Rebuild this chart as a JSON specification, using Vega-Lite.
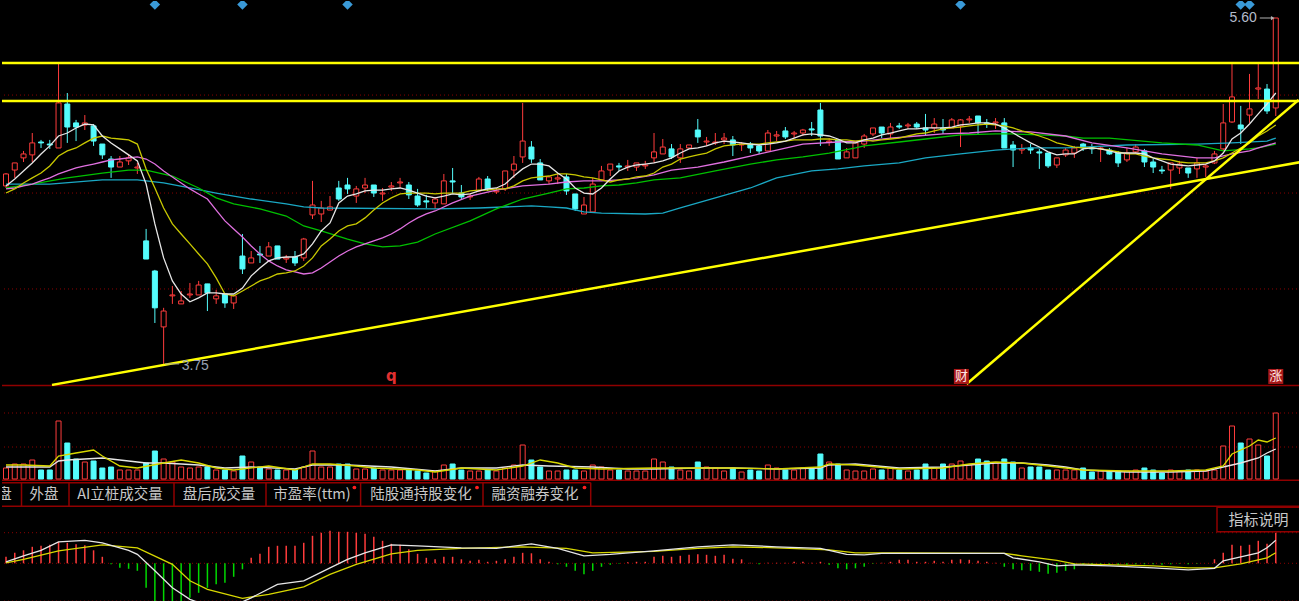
{
"$schema":"https://vega.github.io/schema/vega-lite/v6.json",
"background":"#000000",
"padding":0,
"spacing":0,
"bounds":"flush",
"config":{"view":{"stroke":null},"text":{"font":"Liberation Sans"},"scale":{"continuousPadding":0}},
"datasets":{
"k":[
{"i":0,"o":4.702,"h":4.771,"l":4.691,"c":4.766,"v":11,"m5":4.702,"m10":4.664,"macd":0.013},
{"i":1,"o":4.787,"h":4.825,"l":4.745,"c":4.825,"v":15,"m5":4.739,"m10":4.686,"macd":0.021},
{"i":2,"o":4.852,"h":4.889,"l":4.830,"c":4.873,"v":15,"m5":4.782,"m10":4.718,"macd":0.026},
{"i":3,"o":4.868,"h":4.985,"l":4.830,"c":4.932,"v":19,"m5":4.825,"m10":4.745,"macd":0.033},
{"i":4,"o":4.937,"h":4.948,"l":4.905,"c":4.932,"v":9,"m5":4.873,"m10":4.771,"macd":0.035},
{"i":5,"o":4.926,"h":4.948,"l":4.900,"c":4.921,"v":9,"m5":4.916,"m10":4.809,"macd":0.037},
{"i":6,"o":4.905,"h":5.354,"l":4.905,"c":5.146,"v":58,"m5":4.969,"m10":4.862,"macd":0.043},
{"i":7,"o":5.140,"h":5.199,"l":4.932,"c":5.017,"v":36,"m5":4.985,"m10":4.889,"macd":0.041},
{"i":8,"o":5.039,"h":5.055,"l":4.942,"c":5.017,"v":20,"m5":5.012,"m10":4.905,"macd":0.038},
{"i":9,"o":5.028,"h":5.081,"l":5.001,"c":5.039,"v":17,"m5":5.033,"m10":4.932,"macd":0.036},
{"i":10,"o":5.023,"h":5.033,"l":4.916,"c":4.942,"v":18,"m5":5.028,"m10":4.958,"macd":0.026},
{"i":11,"o":4.926,"h":4.926,"l":4.846,"c":4.868,"v":11,"m5":4.969,"m10":4.969,"macd":0.013},
{"i":12,"o":4.846,"h":4.862,"l":4.745,"c":4.803,"v":12,"m5":4.932,"m10":4.958,"macd":-0.002},
{"i":13,"o":4.803,"h":4.862,"l":4.803,"c":4.830,"v":9,"m5":4.900,"m10":4.953,"macd":-0.009},
{"i":14,"o":4.836,"h":4.873,"l":4.814,"c":4.852,"v":9,"m5":4.868,"m10":4.948,"macd":-0.011},
{"i":15,"o":4.798,"h":4.825,"l":4.766,"c":4.803,"v":9,"m5":4.836,"m10":4.926,"macd":-0.015},
{"i":16,"o":4.408,"h":4.472,"l":4.311,"c":4.311,"v":16,"m5":4.712,"m10":4.793,"macd":-0.049},
{"i":17,"o":4.247,"h":4.253,"l":3.969,"c":4.050,"v":28,"m5":4.499,"m10":4.691,"macd":-0.080},
{"i":18,"o":3.948,"h":4.050,"l":3.750,"c":4.033,"v":20,"m5":4.317,"m10":4.584,"macd":-0.080},
{"i":19,"o":4.114,"h":4.167,"l":4.071,"c":4.119,"v":17,"m5":4.194,"m10":4.499,"macd":-0.080},
{"i":20,"o":4.071,"h":4.140,"l":4.071,"c":4.087,"v":12,"m5":4.124,"m10":4.445,"macd":-0.078},
{"i":21,"o":4.119,"h":4.183,"l":4.103,"c":4.124,"v":11,"m5":4.082,"m10":4.392,"macd":-0.069},
{"i":22,"o":4.119,"h":4.194,"l":4.119,"c":4.172,"v":12,"m5":4.103,"m10":4.338,"macd":-0.059},
{"i":23,"o":4.178,"h":4.178,"l":4.033,"c":4.130,"v":12,"m5":4.130,"m10":4.285,"macd":-0.049},
{"i":24,"o":4.098,"h":4.146,"l":4.071,"c":4.114,"v":9,"m5":4.130,"m10":4.210,"macd":-0.042},
{"i":25,"o":4.124,"h":4.124,"l":4.050,"c":4.076,"v":9,"m5":4.124,"m10":4.124,"macd":-0.039},
{"i":26,"o":4.076,"h":4.114,"l":4.044,"c":4.114,"v":8,"m5":4.124,"m10":4.114,"macd":-0.027},
{"i":27,"o":4.327,"h":4.445,"l":4.231,"c":4.258,"v":23,"m5":4.156,"m10":4.140,"macd":-0.012},
{"i":28,"o":4.290,"h":4.354,"l":4.290,"c":4.317,"v":17,"m5":4.221,"m10":4.167,"macd":0.011},
{"i":29,"o":4.338,"h":4.381,"l":4.290,"c":4.333,"v":12,"m5":4.263,"m10":4.194,"macd":0.019},
{"i":30,"o":4.327,"h":4.402,"l":4.327,"c":4.376,"v":10,"m5":4.301,"m10":4.210,"macd":0.033},
{"i":31,"o":4.381,"h":4.381,"l":4.311,"c":4.311,"v":9,"m5":4.317,"m10":4.231,"macd":0.035},
{"i":32,"o":4.311,"h":4.333,"l":4.290,"c":4.317,"v":9,"m5":4.322,"m10":4.237,"macd":0.035},
{"i":33,"o":4.322,"h":4.354,"l":4.274,"c":4.290,"v":9,"m5":4.322,"m10":4.247,"macd":0.035},
{"i":34,"o":4.317,"h":4.424,"l":4.301,"c":4.418,"v":12,"m5":4.338,"m10":4.274,"macd":0.041},
{"i":35,"o":4.547,"h":4.729,"l":4.525,"c":4.600,"v":28,"m5":4.392,"m10":4.317,"macd":0.055},
{"i":36,"o":4.552,"h":4.622,"l":4.509,"c":4.584,"v":12,"m5":4.461,"m10":4.381,"macd":0.061},
{"i":37,"o":4.573,"h":4.648,"l":4.573,"c":4.590,"v":12,"m5":4.504,"m10":4.418,"macd":0.065},
{"i":38,"o":4.691,"h":4.729,"l":4.622,"c":4.632,"v":15,"m5":4.611,"m10":4.461,"macd":0.063},
{"i":39,"o":4.707,"h":4.745,"l":4.659,"c":4.686,"v":15,"m5":4.648,"m10":4.488,"macd":0.063},
{"i":40,"o":4.648,"h":4.702,"l":4.611,"c":4.686,"v":10,"m5":4.659,"m10":4.499,"macd":0.061},
{"i":41,"o":4.691,"h":4.745,"l":4.664,"c":4.707,"v":10,"m5":4.675,"m10":4.531,"macd":0.059},
{"i":42,"o":4.707,"h":4.707,"l":4.643,"c":4.664,"v":11,"m5":4.680,"m10":4.573,"macd":0.053},
{"i":43,"o":4.659,"h":4.691,"l":4.622,"c":4.664,"v":9,"m5":4.680,"m10":4.611,"macd":0.045},
{"i":44,"o":4.696,"h":4.723,"l":4.675,"c":4.702,"v":9,"m5":4.686,"m10":4.638,"macd":0.039},
{"i":45,"o":4.718,"h":4.745,"l":4.691,"c":4.723,"v":9,"m5":4.691,"m10":4.659,"macd":0.037},
{"i":46,"o":4.707,"h":4.723,"l":4.632,"c":4.654,"v":9,"m5":4.680,"m10":4.664,"macd":0.028},
{"i":47,"o":4.648,"h":4.686,"l":4.590,"c":4.600,"v":8,"m5":4.664,"m10":4.664,"macd":0.019},
{"i":48,"o":4.622,"h":4.654,"l":4.584,"c":4.616,"v":6,"m5":4.648,"m10":4.664,"macd":0.011},
{"i":49,"o":4.611,"h":4.643,"l":4.579,"c":4.632,"v":8,"m5":4.638,"m10":4.659,"macd":0.008},
{"i":50,"o":4.606,"h":4.766,"l":4.606,"c":4.729,"v":14,"m5":4.648,"m10":4.664,"macd":0.013},
{"i":51,"o":4.729,"h":4.798,"l":4.664,"c":4.723,"v":15,"m5":4.659,"m10":4.664,"macd":0.013},
{"i":52,"o":4.664,"h":4.707,"l":4.632,"c":4.643,"v":9,"m5":4.654,"m10":4.664,"macd":0.008},
{"i":53,"o":4.643,"h":4.664,"l":4.627,"c":4.648,"v":8,"m5":4.659,"m10":4.675,"macd":0.005},
{"i":54,"o":4.675,"h":4.750,"l":4.670,"c":4.739,"v":8,"m5":4.675,"m10":4.680,"macd":0.007},
{"i":55,"o":4.739,"h":4.755,"l":4.675,"c":4.686,"v":9,"m5":4.686,"m10":4.680,"macd":0.003},
{"i":56,"o":4.670,"h":4.691,"l":4.659,"c":4.675,"v":8,"m5":4.691,"m10":4.686,"macd":0.005},
{"i":57,"o":4.686,"h":4.782,"l":4.675,"c":4.782,"v":11,"m5":4.712,"m10":4.686,"macd":0.008},
{"i":58,"o":4.787,"h":4.862,"l":4.745,"c":4.819,"v":14,"m5":4.755,"m10":4.702,"macd":0.013},
{"i":59,"o":4.857,"h":5.146,"l":4.825,"c":4.942,"v":34,"m5":4.793,"m10":4.729,"macd":0.021},
{"i":60,"o":4.910,"h":4.942,"l":4.825,"c":4.846,"v":19,"m5":4.819,"m10":4.745,"macd":0.020},
{"i":61,"o":4.825,"h":4.846,"l":4.734,"c":4.734,"v":12,"m5":4.819,"m10":4.750,"macd":0.008},
{"i":62,"o":4.729,"h":4.755,"l":4.712,"c":4.750,"v":8,"m5":4.809,"m10":4.755,"macd":0.003},
{"i":63,"o":4.739,"h":4.771,"l":4.712,"c":4.745,"v":8,"m5":4.771,"m10":4.766,"macd":-0.002},
{"i":64,"o":4.750,"h":4.766,"l":4.654,"c":4.675,"v":9,"m5":4.739,"m10":4.766,"macd":-0.007},
{"i":65,"o":4.659,"h":4.659,"l":4.568,"c":4.579,"v":9,"m5":4.691,"m10":4.761,"macd":-0.015},
{"i":66,"o":4.552,"h":4.643,"l":4.552,"c":4.600,"v":8,"m5":4.664,"m10":4.750,"macd":-0.022},
{"i":67,"o":4.563,"h":4.745,"l":4.563,"c":4.712,"v":14,"m5":4.659,"m10":4.745,"macd":-0.015},
{"i":68,"o":4.734,"h":4.809,"l":4.734,"c":4.782,"v":12,"m5":4.691,"m10":4.734,"macd":-0.007},
{"i":69,"o":4.787,"h":4.819,"l":4.755,"c":4.819,"v":9,"m5":4.739,"m10":4.723,"macd":-0.003},
{"i":70,"o":4.809,"h":4.825,"l":4.782,"c":4.803,"v":9,"m5":4.782,"m10":4.734,"macd":-0.001},
{"i":71,"o":4.803,"h":4.841,"l":4.782,"c":4.809,"v":8,"m5":4.803,"m10":4.739,"macd":0.002},
{"i":72,"o":4.803,"h":4.825,"l":4.782,"c":4.825,"v":8,"m5":4.814,"m10":4.750,"macd":0.003},
{"i":73,"o":4.809,"h":4.836,"l":4.793,"c":4.814,"v":8,"m5":4.819,"m10":4.755,"macd":0.003},
{"i":74,"o":4.852,"h":4.985,"l":4.825,"c":4.884,"v":20,"m5":4.825,"m10":4.771,"macd":0.013},
{"i":75,"o":4.873,"h":4.953,"l":4.873,"c":4.910,"v":17,"m5":4.836,"m10":4.803,"macd":0.015},
{"i":76,"o":4.900,"h":4.926,"l":4.846,"c":4.857,"v":12,"m5":4.852,"m10":4.819,"macd":0.013},
{"i":77,"o":4.852,"h":4.926,"l":4.825,"c":4.900,"v":9,"m5":4.878,"m10":4.846,"macd":0.015},
{"i":78,"o":4.905,"h":4.921,"l":4.900,"c":4.921,"v":8,"m5":4.900,"m10":4.857,"macd":0.017},
{"i":79,"o":5.001,"h":5.060,"l":4.932,"c":4.964,"v":17,"m5":4.905,"m10":4.868,"macd":0.018},
{"i":80,"o":4.937,"h":4.964,"l":4.916,"c":4.942,"v":12,"m5":4.916,"m10":4.878,"macd":0.017},
{"i":81,"o":4.932,"h":4.985,"l":4.921,"c":4.937,"v":11,"m5":4.932,"m10":4.900,"macd":0.015},
{"i":82,"o":4.948,"h":4.985,"l":4.926,"c":4.958,"v":8,"m5":4.942,"m10":4.916,"macd":0.017},
{"i":83,"o":4.948,"h":4.969,"l":4.862,"c":4.921,"v":11,"m5":4.937,"m10":4.921,"macd":0.009},
{"i":84,"o":4.921,"h":4.937,"l":4.889,"c":4.926,"v":7,"m5":4.932,"m10":4.926,"macd":0.008},
{"i":85,"o":4.926,"h":4.937,"l":4.878,"c":4.905,"v":9,"m5":4.926,"m10":4.926,"macd":0.001},
{"i":86,"o":4.916,"h":4.926,"l":4.873,"c":4.889,"v":8,"m5":4.921,"m10":4.926,"macd":-0.002},
{"i":87,"o":4.889,"h":5.001,"l":4.889,"c":4.985,"v":14,"m5":4.926,"m10":4.932,"macd":0.001},
{"i":88,"o":4.969,"h":4.996,"l":4.942,"c":4.975,"v":11,"m5":4.932,"m10":4.937,"macd":0.001},
{"i":89,"o":4.996,"h":5.017,"l":4.953,"c":4.964,"v":9,"m5":4.942,"m10":4.942,"macd":0.001},
{"i":90,"o":4.980,"h":4.996,"l":4.958,"c":4.985,"v":9,"m5":4.958,"m10":4.948,"macd":0.003},
{"i":91,"o":4.985,"h":5.007,"l":4.969,"c":5.001,"v":11,"m5":4.975,"m10":4.948,"macd":0.003},
{"i":92,"o":5.007,"h":5.044,"l":4.969,"c":5.001,"v":10,"m5":4.980,"m10":4.948,"macd":0.001},
{"i":93,"o":5.108,"h":5.146,"l":4.916,"c":4.969,"v":25,"m5":4.975,"m10":4.953,"macd":0.003},
{"i":94,"o":4.937,"h":4.958,"l":4.916,"c":4.942,"v":17,"m5":4.969,"m10":4.953,"macd":-0.003},
{"i":95,"o":4.948,"h":4.948,"l":4.846,"c":4.846,"v":15,"m5":4.953,"m10":4.948,"macd":-0.010},
{"i":96,"o":4.852,"h":4.905,"l":4.852,"c":4.884,"v":9,"m5":4.932,"m10":4.948,"macd":-0.012},
{"i":97,"o":4.852,"h":4.932,"l":4.852,"c":4.932,"v":8,"m5":4.932,"m10":4.942,"macd":-0.010},
{"i":98,"o":4.926,"h":4.980,"l":4.905,"c":4.969,"v":8,"m5":4.948,"m10":4.948,"macd":-0.007},
{"i":99,"o":4.980,"h":5.012,"l":4.969,"c":5.012,"v":10,"m5":4.958,"m10":4.942,"macd":-0.001},
{"i":100,"o":5.017,"h":5.017,"l":4.958,"c":4.985,"v":9,"m5":4.975,"m10":4.948,"macd":0.001},
{"i":101,"o":4.980,"h":5.039,"l":4.958,"c":5.017,"v":11,"m5":4.985,"m10":4.953,"macd":0.003},
{"i":102,"o":5.023,"h":5.039,"l":5.007,"c":5.017,"v":9,"m5":4.996,"m10":4.958,"macd":0.007},
{"i":103,"o":5.023,"h":5.039,"l":5.007,"c":5.028,"v":8,"m5":5.007,"m10":4.969,"macd":0.007},
{"i":104,"o":5.033,"h":5.044,"l":5.007,"c":5.017,"v":9,"m5":5.007,"m10":4.980,"macd":0.003},
{"i":105,"o":5.012,"h":5.087,"l":4.969,"c":5.001,"v":15,"m5":5.012,"m10":4.985,"macd":0.003},
{"i":106,"o":5.012,"h":5.065,"l":4.985,"c":5.033,"v":11,"m5":5.012,"m10":4.996,"macd":0.005},
{"i":107,"o":5.012,"h":5.060,"l":4.980,"c":5.001,"v":15,"m5":5.012,"m10":5.007,"macd":0.003},
{"i":108,"o":5.012,"h":5.065,"l":5.012,"c":5.055,"v":15,"m5":5.017,"m10":5.012,"macd":0.007},
{"i":109,"o":5.023,"h":5.060,"l":4.910,"c":5.055,"v":18,"m5":5.028,"m10":5.017,"macd":0.008},
{"i":110,"o":5.055,"h":5.076,"l":5.039,"c":5.060,"v":14,"m5":5.033,"m10":5.023,"macd":0.007},
{"i":111,"o":5.076,"h":5.076,"l":4.980,"c":5.039,"v":20,"m5":5.039,"m10":5.028,"macd":0.005},
{"i":112,"o":5.039,"h":5.060,"l":5.012,"c":5.033,"v":18,"m5":5.039,"m10":5.033,"macd":0.003},
{"i":113,"o":5.039,"h":5.065,"l":5.007,"c":5.044,"v":16,"m5":5.033,"m10":5.028,"macd":0.001},
{"i":114,"o":5.039,"h":5.065,"l":4.905,"c":4.905,"v":20,"m5":5.012,"m10":5.023,"macd":-0.007},
{"i":115,"o":4.921,"h":4.942,"l":4.803,"c":4.894,"v":17,"m5":4.985,"m10":5.012,"macd":-0.012},
{"i":116,"o":4.894,"h":4.926,"l":4.873,"c":4.900,"v":11,"m5":4.958,"m10":4.996,"macd":-0.014},
{"i":117,"o":4.905,"h":4.926,"l":4.873,"c":4.894,"v":12,"m5":4.932,"m10":4.985,"macd":-0.015},
{"i":118,"o":4.884,"h":4.900,"l":4.793,"c":4.878,"v":12,"m5":4.910,"m10":4.969,"macd":-0.017},
{"i":119,"o":4.878,"h":4.878,"l":4.798,"c":4.809,"v":9,"m5":4.884,"m10":4.953,"macd":-0.021},
{"i":120,"o":4.814,"h":4.852,"l":4.798,"c":4.852,"v":9,"m5":4.868,"m10":4.932,"macd":-0.019},
{"i":121,"o":4.868,"h":4.905,"l":4.857,"c":4.894,"v":9,"m5":4.873,"m10":4.921,"macd":-0.015},
{"i":122,"o":4.878,"h":4.916,"l":4.852,"c":4.905,"v":9,"m5":4.873,"m10":4.910,"macd":-0.012},
{"i":123,"o":4.926,"h":4.932,"l":4.889,"c":4.905,"v":11,"m5":4.900,"m10":4.905,"macd":-0.003},
{"i":124,"o":4.905,"h":4.926,"l":4.873,"c":4.900,"v":7,"m5":4.905,"m10":4.905,"macd":-0.002},
{"i":125,"o":4.900,"h":4.910,"l":4.830,"c":4.905,"v":8,"m5":4.900,"m10":4.900,"macd":-0.002},
{"i":126,"o":4.894,"h":4.905,"l":4.868,"c":4.873,"v":8,"m5":4.889,"m10":4.894,"macd":-0.002},
{"i":127,"o":4.878,"h":4.889,"l":4.803,"c":4.825,"v":8,"m5":4.878,"m10":4.884,"macd":-0.003},
{"i":128,"o":4.841,"h":4.905,"l":4.830,"c":4.878,"v":8,"m5":4.878,"m10":4.873,"macd":-0.003},
{"i":129,"o":4.884,"h":4.926,"l":4.878,"c":4.910,"v":9,"m5":4.878,"m10":4.873,"macd":-0.002},
{"i":130,"o":4.889,"h":4.900,"l":4.803,"c":4.830,"v":11,"m5":4.873,"m10":4.862,"macd":-0.002},
{"i":131,"o":4.830,"h":4.846,"l":4.771,"c":4.803,"v":9,"m5":4.852,"m10":4.852,"macd":-0.002},
{"i":132,"o":4.787,"h":4.809,"l":4.766,"c":4.782,"v":6,"m5":4.836,"m10":4.846,"macd":-0.003},
{"i":133,"o":4.787,"h":4.825,"l":4.686,"c":4.825,"v":9,"m5":4.819,"m10":4.841,"macd":-0.002},
{"i":134,"o":4.798,"h":4.836,"l":4.766,"c":4.819,"v":8,"m5":4.814,"m10":4.830,"macd":-0.001},
{"i":135,"o":4.798,"h":4.798,"l":4.745,"c":4.771,"v":9,"m5":4.809,"m10":4.825,"macd":-0.002},
{"i":136,"o":4.793,"h":4.852,"l":4.745,"c":4.825,"v":9,"m5":4.814,"m10":4.825,"macd":-0.001},
{"i":137,"o":4.803,"h":4.819,"l":4.750,"c":4.809,"v":8,"m5":4.819,"m10":4.825,"macd":0.000},
{"i":138,"o":4.825,"h":4.889,"l":4.819,"c":4.873,"v":9,"m5":4.836,"m10":4.836,"macd":0.008},
{"i":139,"o":4.900,"h":5.140,"l":4.889,"c":5.039,"v":33,"m5":4.878,"m10":4.852,"macd":0.021},
{"i":140,"o":5.044,"h":5.354,"l":5.039,"c":5.178,"v":53,"m5":4.953,"m10":4.878,"macd":0.037},
{"i":141,"o":5.028,"h":5.130,"l":4.926,"c":5.007,"v":36,"m5":4.985,"m10":4.905,"macd":0.035},
{"i":142,"o":5.081,"h":5.301,"l":5.039,"c":5.114,"v":40,"m5":5.033,"m10":4.932,"macd":0.037},
{"i":143,"o":5.220,"h":5.354,"l":5.167,"c":5.226,"v":34,"m5":5.087,"m10":4.969,"macd":0.045},
{"i":144,"o":5.220,"h":5.247,"l":5.087,"c":5.103,"v":23,"m5":5.140,"m10":4.996,"macd":0.039},
{"i":145,"o":5.119,"h":5.600,"l":5.076,"c":5.600,"v":66,"m5":5.199,"m10":5.028,"macd":0.061}
],
"ma20":[{"i":0,"p":4.686},{"i":1,"p":4.691},{"i":2,"p":4.702},{"i":3,"p":4.712},{"i":4,"p":4.729},{"i":5,"p":4.745},{"i":6,"p":4.766},{"i":7,"p":4.782},{"i":8,"p":4.798},{"i":9,"p":4.809},{"i":10,"p":4.819},{"i":11,"p":4.830},{"i":12,"p":4.841},{"i":13,"p":4.846},{"i":14,"p":4.852},{"i":15,"p":4.857},{"i":16,"p":4.846},{"i":17,"p":4.819},{"i":18,"p":4.782},{"i":19,"p":4.750},{"i":20,"p":4.718},{"i":21,"p":4.686},{"i":22,"p":4.659},{"i":23,"p":4.632},{"i":24,"p":4.573},{"i":25,"p":4.515},{"i":26,"p":4.472},{"i":27,"p":4.429},{"i":28,"p":4.381},{"i":29,"p":4.338},{"i":30,"p":4.301},{"i":31,"p":4.274},{"i":32,"p":4.253},{"i":33,"p":4.242},{"i":34,"p":4.231},{"i":35,"p":4.237},{"i":36,"p":4.263},{"i":37,"p":4.295},{"i":38,"p":4.327},{"i":39,"p":4.354},{"i":40,"p":4.376},{"i":41,"p":4.392},{"i":42,"p":4.408},{"i":43,"p":4.424},{"i":44,"p":4.445},{"i":45,"p":4.472},{"i":46,"p":4.504},{"i":47,"p":4.531},{"i":48,"p":4.552},{"i":49,"p":4.568},{"i":51,"p":4.611},{"i":53,"p":4.648},{"i":56,"p":4.680},{"i":59,"p":4.702},{"i":62,"p":4.712},{"i":64,"p":4.723},{"i":66,"p":4.729},{"i":68,"p":4.729},{"i":70,"p":4.734},{"i":72,"p":4.745},{"i":74,"p":4.761},{"i":76,"p":4.787},{"i":79,"p":4.803},{"i":82,"p":4.830},{"i":85,"p":4.862},{"i":88,"p":4.894},{"i":91,"p":4.926},{"i":95,"p":4.937},{"i":98,"p":4.942},{"i":101,"p":4.958},{"i":104,"p":4.969},{"i":107,"p":4.980},{"i":110,"p":4.985},{"i":113,"p":4.996},{"i":117,"p":4.991},{"i":121,"p":4.969},{"i":124,"p":4.932},{"i":128,"p":4.905},{"i":132,"p":4.873},{"i":136,"p":4.852},{"i":138,"p":4.852},{"i":140,"p":4.873},{"i":142,"p":4.889},{"i":143,"p":4.905},{"i":145,"p":4.932}],
"ma30":[{"i":0,"p":4.691},{"i":3,"p":4.712},{"i":7,"p":4.745},{"i":11,"p":4.771},{"i":14,"p":4.787},{"i":16,"p":4.787},{"i":19,"p":4.755},{"i":22,"p":4.691},{"i":24,"p":4.638},{"i":26,"p":4.606},{"i":29,"p":4.579},{"i":32,"p":4.541},{"i":34,"p":4.488},{"i":36,"p":4.461},{"i":39,"p":4.418},{"i":41,"p":4.392},{"i":43,"p":4.376},{"i":45,"p":4.381},{"i":47,"p":4.402},{"i":49,"p":4.445},{"i":53,"p":4.515},{"i":56,"p":4.579},{"i":59,"p":4.632},{"i":62,"p":4.664},{"i":64,"p":4.686},{"i":66,"p":4.691},{"i":68,"p":4.702},{"i":70,"p":4.707},{"i":72,"p":4.718},{"i":74,"p":4.734},{"i":77,"p":4.745},{"i":81,"p":4.782},{"i":85,"p":4.819},{"i":88,"p":4.841},{"i":91,"p":4.857},{"i":94,"p":4.878},{"i":97,"p":4.905},{"i":98,"p":4.916},{"i":102,"p":4.937},{"i":105,"p":4.953},{"i":109,"p":4.975},{"i":113,"p":4.980},{"i":115,"p":4.980},{"i":118,"p":4.975},{"i":121,"p":4.969},{"i":123,"p":4.958},{"i":126,"p":4.958},{"i":132,"p":4.932},{"i":136,"p":4.921},{"i":139,"p":4.889},{"i":142,"p":4.900},{"i":143,"p":4.905},{"i":145,"p":4.926}],
"ma60":[{"i":0,"p":4.712},{"i":5,"p":4.712},{"i":11,"p":4.734},{"i":15,"p":4.734},{"i":18,"p":4.718},{"i":21,"p":4.691},{"i":24,"p":4.664},{"i":28,"p":4.632},{"i":32,"p":4.606},{"i":34,"p":4.590},{"i":36,"p":4.584},{"i":49,"p":4.579},{"i":54,"p":4.584},{"i":60,"p":4.595},{"i":62,"p":4.590},{"i":64,"p":4.584},{"i":66,"p":4.563},{"i":68,"p":4.557},{"i":73,"p":4.552},{"i":75,"p":4.557},{"i":77,"p":4.584},{"i":81,"p":4.638},{"i":85,"p":4.691},{"i":88,"p":4.745},{"i":92,"p":4.782},{"i":95,"p":4.793},{"i":98,"p":4.809},{"i":102,"p":4.825},{"i":105,"p":4.852},{"i":109,"p":4.873},{"i":113,"p":4.894},{"i":117,"p":4.905},{"i":121,"p":4.905},{"i":123,"p":4.910},{"i":128,"p":4.921},{"i":136,"p":4.926},{"i":140,"p":4.932},{"i":144,"p":4.942},{"i":145,"p":4.958}],
"dif":[{"i":0,"m":0.003},{"i":2,"m":0.015},{"i":4,"m":0.026},{"i":6,"m":0.043},{"i":9,"m":0.046},{"i":11,"m":0.041},{"i":14,"m":0.026},{"i":15,"m":0.018},{"i":17,"m":-0.015},{"i":19,"m":-0.049},{"i":21,"m":-0.072},{"i":23,"m":-0.085},{"i":26,"m":-0.085},{"i":28,"m":-0.069},{"i":31,"m":-0.042},{"i":34,"m":-0.035},{"i":37,"m":-0.009},{"i":39,"m":0.008},{"i":41,"m":0.021},{"i":44,"m":0.037},{"i":47,"m":0.035},{"i":52,"m":0.031},{"i":56,"m":0.030},{"i":60,"m":0.039},{"i":63,"m":0.030},{"i":66,"m":0.015},{"i":69,"m":0.018},{"i":74,"m":0.025},{"i":79,"m":0.033},{"i":83,"m":0.037},{"i":88,"m":0.033},{"i":93,"m":0.030},{"i":94,"m":0.026},{"i":96,"m":0.018},{"i":98,"m":0.017},{"i":100,"m":0.020},{"i":114,"m":0.020},{"i":115,"m":0.011},{"i":118,"m":0.003},{"i":120,"m":-0.005},{"i":122,"m":-0.003},{"i":126,"m":-0.005},{"i":131,"m":-0.009},{"i":135,"m":-0.013},{"i":138,"m":-0.010},{"i":139,"m":0.005},{"i":141,"m":0.013},{"i":143,"m":0.021},{"i":144,"m":0.031},{"i":145,"m":0.046}],
"dea":[{"i":0,"m":0.001},{"i":2,"m":0.008},{"i":6,"m":0.025},{"i":11,"m":0.037},{"i":15,"m":0.031},{"i":19,"m":-0.002},{"i":21,"m":-0.035},{"i":23,"m":-0.052},{"i":27,"m":-0.070},{"i":30,"m":-0.062},{"i":34,"m":-0.047},{"i":37,"m":-0.022},{"i":40,"m":-0.002},{"i":44,"m":0.019},{"i":47,"m":0.026},{"i":52,"m":0.030},{"i":59,"m":0.033},{"i":64,"m":0.030},{"i":67,"m":0.021},{"i":74,"m":0.024},{"i":79,"m":0.030},{"i":83,"m":0.033},{"i":88,"m":0.031},{"i":94,"m":0.027},{"i":97,"m":0.021},{"i":102,"m":0.021},{"i":114,"m":0.020},{"i":116,"m":0.015},{"i":120,"m":0.006},{"i":122,"m":-0.001},{"i":131,"m":-0.005},{"i":135,"m":-0.009},{"i":138,"m":-0.009},{"i":141,"m":-0.001},{"i":144,"m":0.011},{"i":145,"m":0.021}],
"vw":[{"i":0,"v":12},{"i":5,"v":12},{"i":6,"v":18},{"i":7,"v":19},{"i":11,"v":21},{"i":14,"v":18},{"i":16,"v":16},{"i":18,"v":16},{"i":22,"v":14},{"i":25,"v":11},{"i":28,"v":12},{"i":33,"v":10},{"i":35,"v":14},{"i":39,"v":14},{"i":44,"v":12},{"i":49,"v":8},{"i":52,"v":11},{"i":56,"v":11},{"i":59,"v":14},{"i":62,"v":13},{"i":67,"v":12},{"i":71,"v":10},{"i":74,"v":10},{"i":79,"v":11},{"i":83,"v":11},{"i":88,"v":10},{"i":93,"v":11},{"i":94,"v":14},{"i":97,"v":15},{"i":102,"v":11},{"i":107,"v":12},{"i":110,"v":14},{"i":113,"v":16},{"i":116,"v":16},{"i":119,"v":14},{"i":121,"v":12},{"i":123,"v":9},{"i":128,"v":7},{"i":133,"v":7},{"i":137,"v":8},{"i":139,"v":12},{"i":141,"v":16},{"i":143,"v":21},{"i":144,"v":26},{"i":145,"v":30}],
"vy":[{"i":0,"v":14},{"i":2,"v":14},{"i":5,"v":13},{"i":6,"v":23},{"i":8,"v":26},{"i":10,"v":29},{"i":11,"v":23},{"i":13,"v":13},{"i":15,"v":11},{"i":18,"v":16},{"i":20,"v":19},{"i":22,"v":16},{"i":24,"v":11},{"i":26,"v":9},{"i":30,"v":13},{"i":33,"v":9},{"i":35,"v":15},{"i":37,"v":15},{"i":40,"v":13},{"i":42,"v":11},{"i":47,"v":9},{"i":49,"v":7},{"i":52,"v":11},{"i":56,"v":9},{"i":59,"v":13},{"i":61,"v":19},{"i":63,"v":16},{"i":65,"v":11},{"i":68,"v":10},{"i":74,"v":11},{"i":79,"v":11},{"i":83,"v":11},{"i":88,"v":10},{"i":93,"v":12},{"i":94,"v":15},{"i":97,"v":14},{"i":102,"v":10},{"i":107,"v":11},{"i":110,"v":15},{"i":113,"v":17},{"i":116,"v":16},{"i":119,"v":13},{"i":121,"v":11},{"i":123,"v":9},{"i":128,"v":8},{"i":133,"v":8},{"i":137,"v":9},{"i":139,"v":13},{"i":140,"v":25},{"i":142,"v":33},{"i":143,"v":39},{"i":144,"v":37},{"i":145,"v":41}]
},
"vconcat":[
{
"width":1299,"height":385,
"layer":[
{"data":{"values":[{"g":5.188},{"g":4.664},{"g":4.151}]},"mark":{"type":"rule","color":"#8a0000","strokeDash":[1,3],"strokeWidth":1},"encoding":{"y":{"field":"g","type":"quantitative","scale":{"domain":[3.632,5.691],"nice":false,"zero":false},"axis":null}}},
{"data":{"values":[{"g":3.635}]},"mark":{"type":"rule","color":"#900000","strokeWidth":1.5},"encoding":{"y":{"field":"g","type":"quantitative","scale":{"domain":[3.632,5.691],"nice":false,"zero":false},"axis":null}}},
{"data":{"values":[{"r":147.77}]},"mark":{"type":"rule","color":"#900000","strokeWidth":1},"encoding":{"x":{"field":"r","type":"quantitative","scale":{"domain":[-0.457,147.88],"nice":false,"zero":false,"padding":0},"axis":null}}},
{"data":{"name":"k"},"mark":{"type":"rule","strokeWidth":1,"clip":true},"encoding":{"x":{"field":"i","type":"quantitative","scale":{"domain":[-0.457,147.88],"nice":false,"zero":false,"padding":0},"axis":null},"y":{"field":"l","type":"quantitative","scale":{"domain":[3.632,5.691],"nice":false,"zero":false},"axis":null},"y2":{"field":"h"},"color":{"condition":{"test":"datum.c >= datum.o","value":"#ff3c3c"},"value":"#54fcfc"}}},
{"data":{"name":"k"},"mark":{"type":"bar","size":5,"strokeWidth":1,"clip":true},"encoding":{"x":{"field":"i","type":"quantitative","scale":{"domain":[-0.457,147.88],"nice":false,"zero":false,"padding":0},"axis":null},"y":{"field":"o","type":"quantitative","scale":{"domain":[3.632,5.691],"nice":false,"zero":false},"axis":null},"y2":{"field":"c"},"fill":{"condition":{"test":"datum.c >= datum.o","value":"#000000"},"value":"#54fcfc"},"stroke":{"condition":{"test":"datum.c >= datum.o","value":"#ff3c3c"},"value":"#54fcfc"}}},
{"data":{"name":"ma60"},"mark":{"type":"line","color":"#1aa8c4","strokeWidth":1.3,"clip":true},"encoding":{"x":{"field":"i","type":"quantitative","scale":{"domain":[-0.457,147.88],"nice":false,"zero":false,"padding":0},"axis":null},"y":{"field":"p","type":"quantitative","scale":{"domain":[3.632,5.691],"nice":false,"zero":false},"axis":null}}},
{"data":{"name":"ma30"},"mark":{"type":"line","color":"#00c000","strokeWidth":1.3,"clip":true},"encoding":{"x":{"field":"i","type":"quantitative","scale":{"domain":[-0.457,147.88],"nice":false,"zero":false,"padding":0},"axis":null},"y":{"field":"p","type":"quantitative","scale":{"domain":[3.632,5.691],"nice":false,"zero":false},"axis":null}}},
{"data":{"name":"ma20"},"mark":{"type":"line","color":"#e070e0","strokeWidth":1.3,"clip":true},"encoding":{"x":{"field":"i","type":"quantitative","scale":{"domain":[-0.457,147.88],"nice":false,"zero":false,"padding":0},"axis":null},"y":{"field":"p","type":"quantitative","scale":{"domain":[3.632,5.691],"nice":false,"zero":false},"axis":null}}},
{"data":{"name":"k"},"mark":{"type":"line","color":"#c8c800","strokeWidth":1.3,"clip":true},"encoding":{"x":{"field":"i","type":"quantitative","scale":{"domain":[-0.457,147.88],"nice":false,"zero":false,"padding":0},"axis":null},"y":{"field":"m10","type":"quantitative","scale":{"domain":[3.632,5.691],"nice":false,"zero":false},"axis":null}}},
{"data":{"name":"k"},"mark":{"type":"line","color":"#e6e6e6","strokeWidth":1.3,"clip":true},"encoding":{"x":{"field":"i","type":"quantitative","scale":{"domain":[-0.457,147.88],"nice":false,"zero":false,"padding":0},"axis":null},"y":{"field":"m5","type":"quantitative","scale":{"domain":[3.632,5.691],"nice":false,"zero":false},"axis":null}}},
{"data":{"values":[{"p":5.360},{"p":5.156}]},"mark":{"type":"rule","color":"#ffff00","strokeWidth":2.5},"encoding":{"y":{"field":"p","type":"quantitative","scale":{"domain":[3.632,5.691],"nice":false,"zero":false},"axis":null}}},
{"data":{"values":[{"a":5.25,"pa":3.638,"b":147.9,"pb":4.830},{"a":109.7,"pa":3.643,"b":147.6,"pb":5.162}]},"mark":{"type":"rule","color":"#ffff00","strokeWidth":2.5,"clip":true},"encoding":{"x":{"field":"a","type":"quantitative","scale":{"domain":[-0.457,147.88],"nice":false,"zero":false,"padding":0},"axis":null},"x2":{"field":"b"},"y":{"field":"pa","type":"quantitative","scale":{"domain":[3.632,5.691],"nice":false,"zero":false},"axis":null},"y2":{"field":"pb"}}},
{"data":{"values":[{"i":17},{"i":27},{"i":39},{"i":109},{"i":141},{"i":142}]},"mark":{"type":"point","shape":"diamond","filled":true,"color":"#3a9ad8","size":110,"opacity":1,"clip":true},"encoding":{"x":{"field":"i","type":"quantitative","scale":{"domain":[-0.457,147.88],"nice":false,"zero":false,"padding":0},"axis":null},"y":{"datum":5.672,"type":"quantitative","scale":{"domain":[3.632,5.691],"nice":false,"zero":false},"axis":null}}},
{"data":{"values":[{"i":145,"p":5.60,"t":"5.60"}]},"mark":{"type":"text","align":"right","baseline":"middle","dx":-19,"fontSize":14,"color":"#b4bccb"},"encoding":{"x":{"field":"i","type":"quantitative","scale":{"domain":[-0.457,147.88],"nice":false,"zero":false,"padding":0},"axis":null},"y":{"field":"p","type":"quantitative","scale":{"domain":[3.632,5.691],"nice":false,"zero":false},"axis":null},"text":{"field":"t"}}},
{"data":{"values":[{"i":145,"p":5.60}]},"mark":{"type":"rule","color":"#b0b0b0","strokeWidth":1,"xOffset":-16,"x2Offset":-3},"encoding":{"x":{"field":"i","type":"quantitative","scale":{"domain":[-0.457,147.88],"nice":false,"zero":false,"padding":0},"axis":null},"x2":{"field":"i"},"y":{"field":"p","type":"quantitative","scale":{"domain":[3.632,5.691],"nice":false,"zero":false},"axis":null}}},
{"data":{"values":[{"i":145,"p":5.60}]},"mark":{"type":"point","shape":"triangle-right","filled":true,"color":"#b0b0b0","size":18,"opacity":1,"xOffset":-3},"encoding":{"x":{"field":"i","type":"quantitative","scale":{"domain":[-0.457,147.88],"nice":false,"zero":false,"padding":0},"axis":null},"y":{"field":"p","type":"quantitative","scale":{"domain":[3.632,5.691],"nice":false,"zero":false},"axis":null}}},
{"data":{"values":[{"i":18,"p":3.75,"t":"3.75"}]},"mark":{"type":"text","align":"left","baseline":"middle","dx":18,"dy":2,"fontSize":14,"color":"#98a2b2"},"encoding":{"x":{"field":"i","type":"quantitative","scale":{"domain":[-0.457,147.88],"nice":false,"zero":false,"padding":0},"axis":null},"y":{"field":"p","type":"quantitative","scale":{"domain":[3.632,5.691],"nice":false,"zero":false},"axis":null},"text":{"field":"t"}}},
{"data":{"values":[{"i":18,"p":3.75}]},"mark":{"type":"rule","color":"#a0a0a0","strokeWidth":1,"xOffset":1.5,"x2Offset":15.5},"encoding":{"x":{"field":"i","type":"quantitative","scale":{"domain":[-0.457,147.88],"nice":false,"zero":false,"padding":0},"axis":null},"x2":{"field":"i"},"y":{"field":"p","type":"quantitative","scale":{"domain":[3.632,5.691],"nice":false,"zero":false},"axis":null}}},
{"data":{"values":[{"i":44,"p":3.683,"t":"q"}]},"mark":{"type":"text","align":"center","baseline":"middle","fontSize":15,"fontWeight":"bold","font":"DejaVu Sans","color":"#e03030"},"encoding":{"x":{"field":"i","type":"quantitative","scale":{"domain":[-0.457,147.88],"nice":false,"zero":false,"padding":0},"axis":null},"y":{"field":"p","type":"quantitative","scale":{"domain":[3.632,5.691],"nice":false,"zero":false},"axis":null},"text":{"field":"t"}}},
{"data":{"values":[{"i":109.1,"p":3.683,"t":"财"},{"i":145,"p":3.683,"t":"涨"}]},"mark":{"type":"point","shape":"square","filled":true,"color":"#a81818","size":225,"opacity":1},"encoding":{"x":{"field":"i","type":"quantitative","scale":{"domain":[-0.457,147.88],"nice":false,"zero":false,"padding":0},"axis":null},"y":{"field":"p","type":"quantitative","scale":{"domain":[3.632,5.691],"nice":false,"zero":false},"axis":null}}},
{"data":{"values":[{"i":109.1,"p":3.683,"t":"财"},{"i":145,"p":3.683,"t":"涨"}]},"mark":{"type":"text","align":"center","baseline":"middle","fontSize":13,"font":"Noto Sans CJK SC","color":"#ffe6e6"},"encoding":{"x":{"field":"i","type":"quantitative","scale":{"domain":[-0.457,147.88],"nice":false,"zero":false,"padding":0},"axis":null},"y":{"field":"p","type":"quantitative","scale":{"domain":[3.632,5.691],"nice":false,"zero":false},"axis":null},"text":{"field":"t"}}}
]
},
{
"width":1299,"height":95,
"layer":[
{"data":{"values":[{"g":66},{"g":32}]},"mark":{"type":"rule","color":"#8a0000","strokeDash":[1,3],"strokeWidth":1},"encoding":{"y":{"field":"g","type":"quantitative","scale":{"domain":[-2,93],"nice":false,"zero":false,"padding":0},"axis":null}}},
{"data":{"values":[{"g":-1.3}]},"mark":{"type":"rule","color":"#900000","strokeWidth":1.5},"encoding":{"y":{"field":"g","type":"quantitative","scale":{"domain":[-2,93],"nice":false,"zero":false,"padding":0},"axis":null}}},
{"data":{"name":"k"},"mark":{"type":"bar","size":5,"strokeWidth":1,"clip":true},"encoding":{"x":{"field":"i","type":"quantitative","scale":{"domain":[-0.457,147.88],"nice":false,"zero":false,"padding":0},"axis":null},"y":{"field":"v","type":"quantitative","scale":{"domain":[-2,93],"nice":false,"zero":false,"padding":0},"axis":null},"y2":{"datum":0},"fill":{"condition":{"test":"datum.c >= datum.o","value":"#000000"},"value":"#54fcfc"},"stroke":{"condition":{"test":"datum.c >= datum.o","value":"#ff3c3c"},"value":"#54fcfc"}}},
{"data":{"name":"vw"},"mark":{"type":"line","color":"#e6e6e6","strokeWidth":1.3,"clip":true},"encoding":{"x":{"field":"i","type":"quantitative","scale":{"domain":[-0.457,147.88],"nice":false,"zero":false,"padding":0},"axis":null},"y":{"field":"v","type":"quantitative","scale":{"domain":[-2,93],"nice":false,"zero":false,"padding":0},"axis":null}}},
{"data":{"name":"vy"},"mark":{"type":"line","color":"#d8d800","strokeWidth":1.3,"clip":true},"encoding":{"x":{"field":"i","type":"quantitative","scale":{"domain":[-0.457,147.88],"nice":false,"zero":false,"padding":0},"axis":null},"y":{"field":"v","type":"quantitative","scale":{"domain":[-2,93],"nice":false,"zero":false,"padding":0},"axis":null}}}
]
},
{
"width":1299,"height":26,
"layer":[
{"data":{"values":[{"g":25.3}]},"mark":{"type":"rule","color":"#900000","strokeWidth":1.5},"encoding":{"y":{"field":"g","type":"quantitative","scale":{"domain":[26,0],"nice":false,"zero":false},"axis":null}}},
{"data":{"values":[{"a":0,"b":588.7,"g":1.7}]},"mark":{"type":"rule","color":"#900000","strokeWidth":1.5},"encoding":{"x":{"field":"a","type":"quantitative","scale":{"domain":[0,1299],"nice":false,"zero":false},"axis":null},"x2":{"field":"b"},"y":{"field":"g","type":"quantitative","scale":{"domain":[26,0],"nice":false,"zero":false},"axis":null}}},
{"data":{"values":[{"s":19.5},{"s":67},{"s":172},{"s":264},{"s":358.6},{"s":481},{"s":588.7}]},"mark":{"type":"rule","color":"#900000","strokeWidth":1.5},"encoding":{"x":{"field":"s","type":"quantitative","scale":{"domain":[0,1299],"nice":false,"zero":false},"axis":null},"y":{"datum":1.7,"type":"quantitative","scale":{"domain":[26,0],"nice":false,"zero":false},"axis":null},"y2":{"datum":25.3}}},
{"data":{"values":[{"t":"盘","cx":2.5},{"t":"外盘","cx":42},{"t":"AI立桩成交量","cx":118},{"t":"盘后成交量","cx":217},{"t":"市盈率(ttm)","cx":310},{"t":"陆股通持股变化","cx":419},{"t":"融资融券变化","cx":533}]},"mark":{"type":"text","align":"center","baseline":"middle","fontSize":14.5,"font":"Noto Sans CJK SC","color":"#c8c8c8","clip":true},"encoding":{"x":{"field":"cx","type":"quantitative","scale":{"domain":[0,1299],"nice":false,"zero":false},"axis":null},"y":{"datum":13.5,"type":"quantitative","scale":{"domain":[26,0],"nice":false,"zero":false},"axis":null},"text":{"field":"t"}}},
{"data":{"values":[{"d":352.4},{"d":475},{"d":582.5}]},"mark":{"type":"point","shape":"circle","filled":true,"color":"#ff2020","size":14,"opacity":1},"encoding":{"x":{"field":"d","type":"quantitative","scale":{"domain":[0,1299],"nice":false,"zero":false},"axis":null},"y":{"datum":6.5,"type":"quantitative","scale":{"domain":[26,0],"nice":false,"zero":false},"axis":null}}}
]
},
{
"width":1299,"height":95,
"resolve":{"scale":{"x":"independent"}},
"layer":[
{"data":{"values":[{"g":0.0612},{"g":0},{"g":-0.0755}]},"mark":{"type":"rule","color":"#8a0000","strokeDash":[1,3],"strokeWidth":1},"encoding":{"y":{"field":"g","type":"quantitative","scale":{"domain":[-0.0774,0.1126],"nice":false,"zero":false},"axis":null}}},
{"data":{"name":"k"},"mark":{"type":"rule","strokeWidth":1.5,"clip":true},"encoding":{"x":{"field":"i","type":"quantitative","scale":{"domain":[-0.457,147.88],"nice":false,"zero":false,"padding":0},"axis":null},"y":{"field":"macd","type":"quantitative","scale":{"domain":[-0.0774,0.1126],"nice":false,"zero":false},"axis":null},"y2":{"datum":0},"color":{"condition":{"test":"datum.macd >= 0","value":"#ff3c3c"},"value":"#00d800"}}},
{"data":{"name":"dea"},"mark":{"type":"line","color":"#d8d800","strokeWidth":1.3,"clip":true},"encoding":{"x":{"field":"i","type":"quantitative","scale":{"domain":[-0.457,147.88],"nice":false,"zero":false,"padding":0},"axis":null},"y":{"field":"m","type":"quantitative","scale":{"domain":[-0.0774,0.1126],"nice":false,"zero":false},"axis":null}}},
{"data":{"name":"dif"},"mark":{"type":"line","color":"#e6e6e6","strokeWidth":1.3,"clip":true},"encoding":{"x":{"field":"i","type":"quantitative","scale":{"domain":[-0.457,147.88],"nice":false,"zero":false,"padding":0},"axis":null},"y":{"field":"m","type":"quantitative","scale":{"domain":[-0.0774,0.1126],"nice":false,"zero":false},"axis":null}}},
{"data":{"values":[{"a":1215,"b":1298,"t1":0.1122,"t2":0.0632}]},"mark":{"type":"rect","fill":"#000000","stroke":"#900000","strokeWidth":1.5},"encoding":{"x":{"field":"a","type":"quantitative","scale":{"domain":[0,1299],"nice":false,"zero":false,"padding":0},"axis":null},"x2":{"field":"b"},"y":{"field":"t1","type":"quantitative","scale":{"domain":[-0.0774,0.1126],"nice":false,"zero":false},"axis":null},"y2":{"field":"t2"}}},
{"data":{"values":[{"x":1256.5,"m":0.0876,"t":"指标说明"}]},"mark":{"type":"text","align":"center","baseline":"middle","fontSize":15,"font":"Noto Sans CJK SC","color":"#c8c8c8"},"encoding":{"x":{"field":"x","type":"quantitative","scale":{"domain":[0,1299],"nice":false,"zero":false},"axis":null},"y":{"field":"m","type":"quantitative","scale":{"domain":[-0.0774,0.1126],"nice":false,"zero":false},"axis":null},"text":{"field":"t"}}}
]
}
]
}
